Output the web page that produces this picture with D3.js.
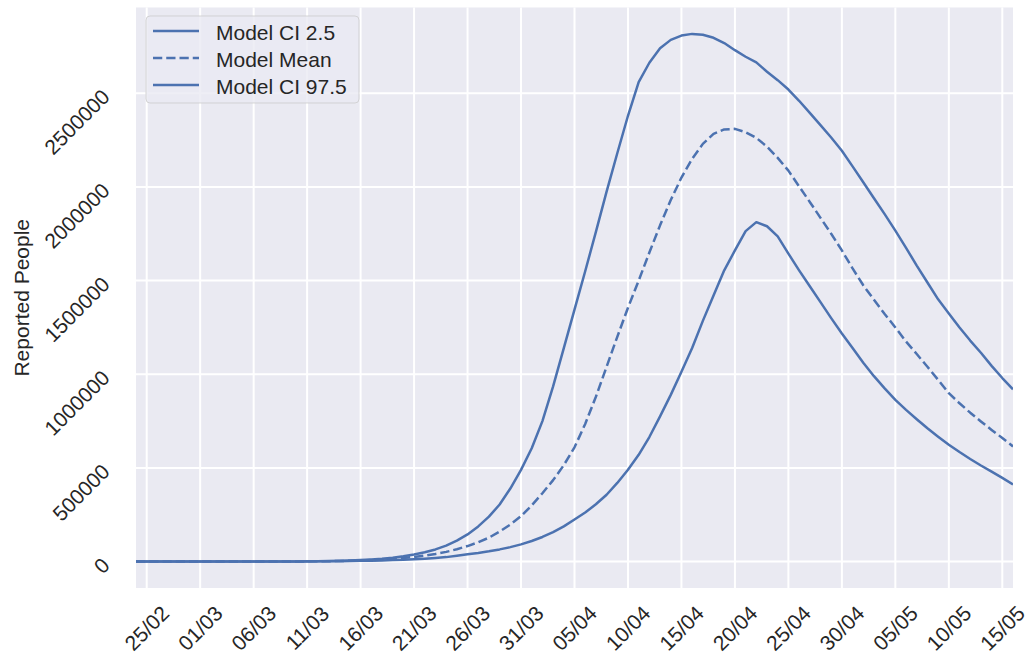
<!DOCTYPE html>
<html lang="en">
<head>
<meta charset="UTF-8">
<title>Reported People</title>
<script src="https://cdn.jsdelivr.net/npm/d3@7"></script>
<style>
  body { margin: 0; background: #fff; }
  text { font-family: "Liberation Sans", Arial, sans-serif; fill: #262626; }
</style>
</head>
<body>
<svg id="chart" width="1029" height="657"></svg>
<script>
// daily values, 24/02 .. 16/05
var startDay = "2020-02-24";
var ciLow = [10, 13, 17, 22, 29, 38, 50, 65, 85, 110, 145, 190, 300, 400, 550, 750,
  1000, 1400, 1900, 2600, 3500, 4000, 5200, 6600, 8200, 10000, 12000, 15000, 19000, 24000, 31000,
  39000, 46300, 55000, 65200, 77400, 92000, 110000, 131500, 157500, 188000, 225000,
  262000, 306000, 357000, 420000, 490000, 570000, 665000, 775000, 890000, 1014000,
  1140000, 1285000, 1420000, 1555000, 1661000, 1764000, 1812000, 1790000, 1736000, 1644000,
  1555000, 1470000, 1385000, 1300000, 1218000, 1140000, 1062000, 990000, 925000, 863000,
  810000, 760000, 712000, 667000, 624000, 585000, 548000, 513000, 480000, 447000, 412000];
var modelMean = [10, 14, 19, 26, 35, 48, 65, 88, 120, 160, 220, 300, 400, 540, 730, 980,
  1300, 1750, 2350, 3150, 4400, 6300, 8300, 11000, 14500, 19000, 25000, 32000, 41000, 52000, 66000,
  83000, 103000, 128000, 160000, 198000, 243000, 300000, 365000, 435000, 515000, 610000,
  735000, 880000, 1040000, 1200000, 1355000, 1500000, 1650000, 1795000, 1930000, 2050000,
  2150000, 2230000, 2283000, 2307000, 2310000, 2292000, 2262000, 2215000, 2155000, 2087000,
  2003000, 1920000, 1835000, 1750000, 1661000, 1565000, 1475000, 1398000, 1322000, 1250000,
  1175000, 1108000, 1040000, 970000, 899000, 845000, 795000, 748000, 703000, 660000, 615000];
var ciHigh = [10, 15, 20, 30, 40, 55, 75, 100, 140, 190, 260, 350, 480, 650, 880, 1200,
  1650, 2250, 3050, 4150, 6000, 8500, 11500, 15500, 21000, 28500, 38000, 50000, 65000, 85000, 112000,
  145000, 188000, 240000, 305000, 390000, 490000, 605000, 750000, 935000, 1140000, 1345000,
  1550000, 1760000, 1975000, 2180000, 2380000, 2560000, 2663000, 2740000, 2785000, 2808000,
  2817000, 2812000, 2796000, 2768000, 2730000, 2695000, 2665000, 2615000, 2570000, 2520000,
  2460000, 2395000, 2330000, 2264000, 2193000, 2110000, 2025000, 1940000, 1855000, 1767000,
  1675000, 1580000, 1490000, 1400000, 1325000, 1250000, 1180000, 1115000, 1045000, 980000, 920000];

var xTicks = ["2020-02-25", "2020-03-01", "2020-03-06", "2020-03-11", "2020-03-16", "2020-03-21",
  "2020-03-26", "2020-03-31", "2020-04-05", "2020-04-10", "2020-04-15", "2020-04-20",
  "2020-04-25", "2020-04-30", "2020-05-05", "2020-05-10", "2020-05-15"];
var yTicks = [0, 500000, 1000000, 1500000, 2000000, 2500000];

var seriesNames = ["Model CI 2.5", "Model Mean", "Model CI 97.5"];
var seriesDash = [null, "9.25,4", null];

var blue = "#4c72b0";
var parseDay = d3.utcParse("%Y-%m-%d");
var start = parseDay(startDay);
var days = ciLow.map(function (v, i) { return d3.utcDay.offset(start, i); });

var plot = { left: 136, right: 1013, top: 7.5, bottom: 588 };

var svg = d3.select("#chart");

var x = d3.scaleUtc()
  .domain(d3.extent(days))
  .range([plot.left, plot.right]);

var allVals = ciLow.concat(modelMean, ciHigh);
var lo = d3.min(allVals), hi = d3.max(allVals), pad = (hi - lo) * 0.05;
var y = d3.scaleLinear()
  .domain([lo - pad, hi + pad])
  .range([plot.bottom, plot.top]);

// background
svg.append("rect")
  .attr("x", plot.left).attr("y", plot.top)
  .attr("width", plot.right - plot.left).attr("height", plot.bottom - plot.top)
  .attr("fill", "#eaeaf2");

svg.append("clipPath").attr("id", "clip")
  .append("rect")
  .attr("x", plot.left).attr("y", plot.top)
  .attr("width", plot.right - plot.left).attr("height", plot.bottom - plot.top);

// grid
var grid = svg.append("g").attr("stroke", "#fff").attr("stroke-width", 2);
grid.selectAll("line.vx").data(xTicks).enter().append("line")
  .attr("x1", function (d) { return x(parseDay(d)); })
  .attr("x2", function (d) { return x(parseDay(d)); })
  .attr("y1", plot.top).attr("y2", plot.bottom);
grid.selectAll("line.hy").data(yTicks).enter().append("line")
  .attr("x1", plot.left).attr("x2", plot.right)
  .attr("y1", function (d) { return y(d); })
  .attr("y2", function (d) { return y(d); });

// tick labels
var fmt = d3.utcFormat("%d/%m");
svg.append("g").selectAll("text").data(xTicks).enter().append("text")
  .attr("transform", function (d) { return "translate(" + x(parseDay(d)) + ",628) rotate(-45)"; })
  .attr("text-anchor", "middle")
  .attr("dominant-baseline", "central")
  .attr("font-size", 21)
  .text(function (d) { return fmt(parseDay(d)); });

svg.append("g").selectAll("text").data(yTicks).enter().append("text")
  .attr("transform", function (d) { return "translate(111," + (y(d) + 5) + ") rotate(-45)"; })
  .attr("text-anchor", "end")
  .attr("font-size", 21)
  .text(function (d) { return d3.format("d")(d); });

svg.append("text")
  .attr("transform", "translate(29," + ((plot.top + plot.bottom) / 2) + ") rotate(-90)")
  .attr("text-anchor", "middle")
  .attr("font-size", 21)
  .text("Reported People");

// lines
var line = d3.line()
  .x(function (d, i) { return x(days[i]); })
  .y(function (d) { return y(d); });

var series = [ciLow, modelMean, ciHigh];
svg.append("g").attr("clip-path", "url(#clip)")
  .selectAll("path").data(series).enter().append("path")
  .attr("d", line)
  .attr("fill", "none")
  .attr("stroke", blue)
  .attr("stroke-width", 2.5)
  .attr("stroke-linejoin", "round")
  .attr("stroke-dasharray", function (d, i) { return seriesDash[i]; });

// legend
var lg = svg.append("g");
lg.append("rect")
  .attr("x", 146).attr("y", 16).attr("width", 213).attr("height", 87).attr("rx", 4)
  .attr("fill", "#eaeaf2").attr("fill-opacity", 0.8)
  .attr("stroke", "#cccccc").attr("stroke-opacity", 0.8);
seriesNames.forEach(function (name, i) {
  var cy = 31 + i * 27;
  lg.append("line")
    .attr("x1", 153).attr("x2", 199).attr("y1", cy).attr("y2", cy)
    .attr("stroke", blue).attr("stroke-width", 2.5)
    .attr("stroke-dasharray", seriesDash[i]);
  lg.append("text")
    .attr("x", 216).attr("y", cy + 1)
    .attr("dominant-baseline", "central")
    .attr("font-size", 21)
    .text(name);
});
</script>
</body>
</html>
